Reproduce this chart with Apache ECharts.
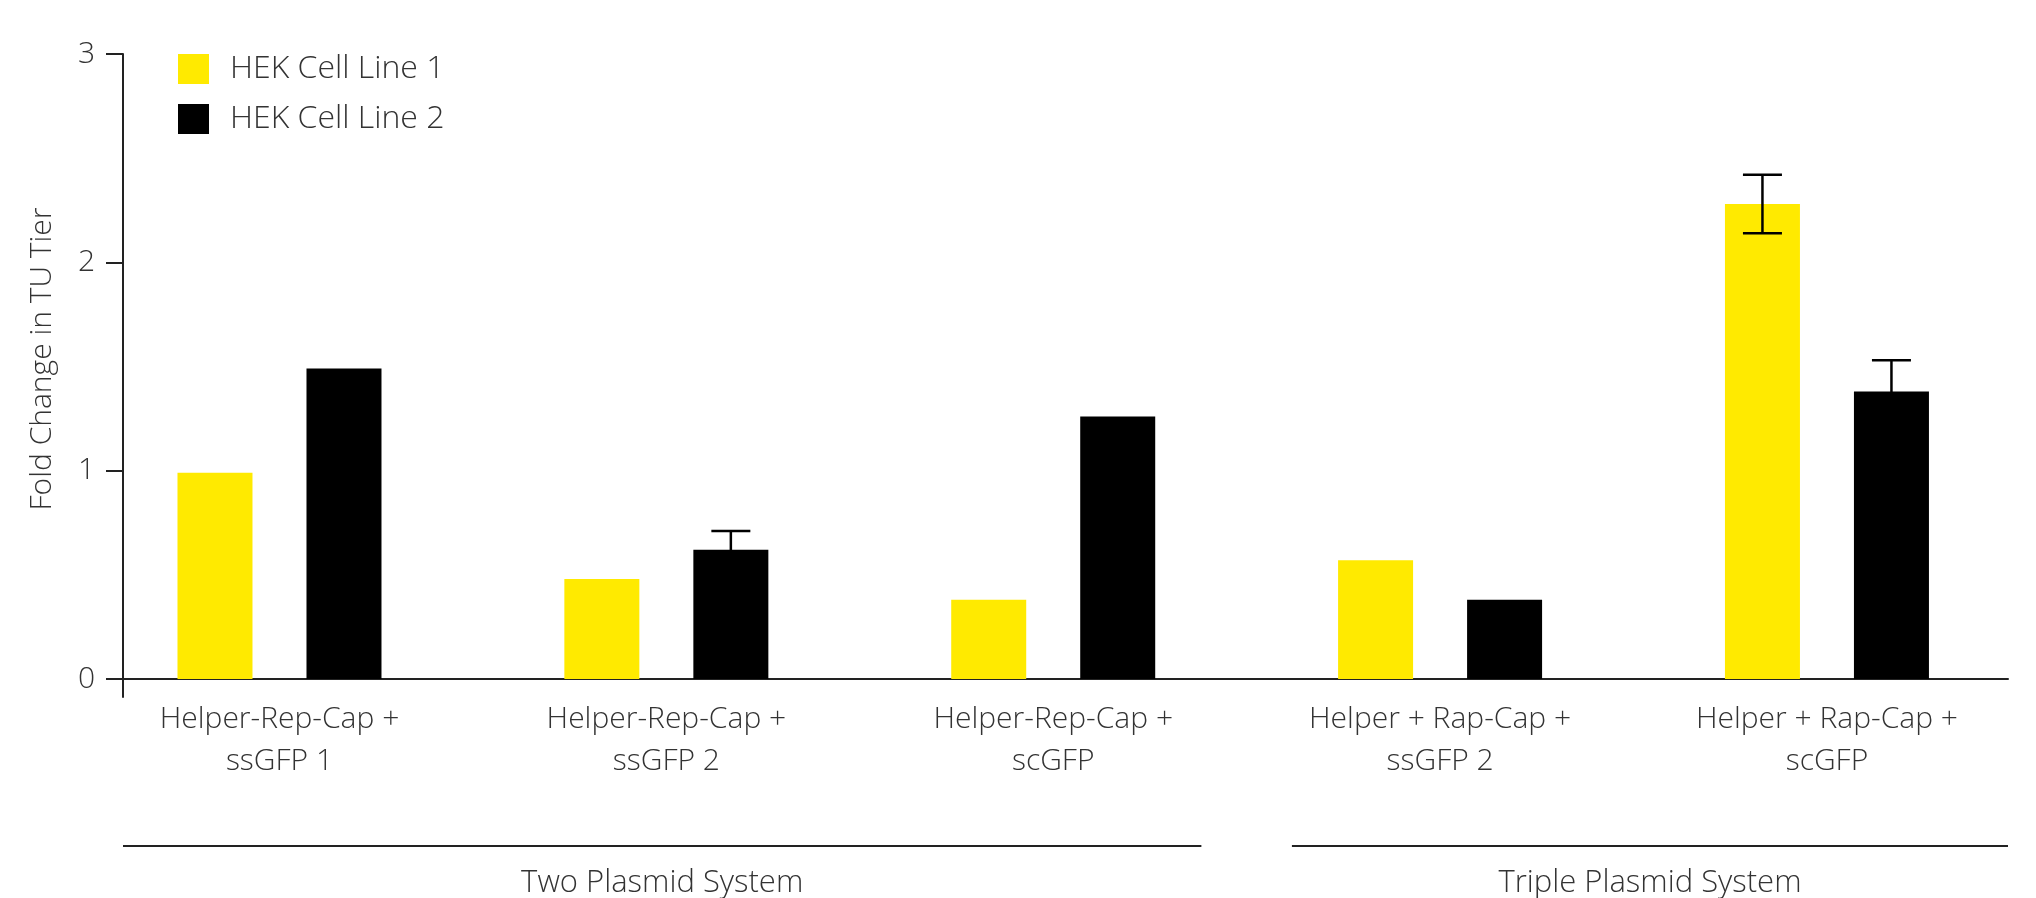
<!DOCTYPE html>
<html>
<head>
<meta charset="utf-8">
<script src="https://cdn.jsdelivr.net/npm/echarts@6/dist/echarts.min.js"></script>
<style>
html,body{margin:0;padding:0;background:#fff;}
#chart{width:2036px;height:898px;}
</style>
</head>
<body>
<div id="chart"></div>
<script>
// ---- data ----
const categories = [
  'Helper-Rep-Cap +\nssGFP 1',
  'Helper-Rep-Cap +\nssGFP 2',
  'Helper-Rep-Cap +\nscGFP',
  'Helper + Rap-Cap +\nssGFP 2',
  'Helper + Rap-Cap +\nscGFP'
];
const seriesNames = ['HEK Cell Line 1', 'HEK Cell Line 2'];
const line1Values = [0.99, 0.48, 0.38, 0.57, 2.28];
const line2Values = [1.49, 0.62, 1.26, 0.38, 1.38];
const line1Errors = [null, null, null, null, 0.14];
const line2Errors = [null, 0.09, null, null, 0.15];
const yTicks = [0, 1, 2, 3];
const groups = [
  { name: 'Two Plasmid System', from: 0, to: 2 },
  { name: 'Triple Plasmid System', from: 3, to: 4 }
];

// ---- style / layout ----
const FONT = '"Open Sans", Lato, sans-serif';
const FW = 300;
const TEXT = '#333';
const AXIS = '#222';
const YELLOW = '#FFEA00';
const BLACK = '#000';
const BAR_W = 75, BAR_GAP = 54;
const X_MIN = -0.4045, X_MAX = 4.468;
const Y_MIN = -0.0864, Y_MAX = 3;

const chart = echarts.init(document.getElementById('chart'), null, {renderer: 'canvas'});

function barData(vals) { return vals.map((v, i) => [i, v]); }
function errData(vals, errs) {
  const out = [];
  vals.forEach((v, i) => { if (errs[i] != null) out.push([i, v, errs[i]]); });
  return out;
}
function errSeries(vals, errs, sign) {
  const off = sign * (BAR_W / 2 + BAR_GAP / 2);
  return {
    type: 'custom',
    data: errData(vals, errs),
    z: 5,
    silent: true,
    renderItem: function (params, api) {
      const x = api.value(0), y = api.value(1), e = api.value(2);
      const pTop = api.coord([x, y + e]);
      const pBot = api.coord([x, y - e]);
      const cx = pTop[0] + off;
      const half = 19.5;
      const style = { stroke: '#000', lineWidth: 2.5 };
      return {
        type: 'group',
        children: [
          { type: 'line', shape: { x1: cx, y1: pTop[1], x2: cx, y2: pBot[1] }, style },
          { type: 'line', shape: { x1: cx - half, y1: pTop[1], x2: cx + half, y2: pTop[1] }, style },
          { type: 'line', shape: { x1: cx - half, y1: pBot[1], x2: cx + half, y2: pBot[1] }, style }
        ]
      };
    }
  };
}

const option = {
  backgroundColor: '#fff',
  animation: false,
  textStyle: { fontFamily: FONT, fontWeight: FW },
  grid: { left: 123, right: 28, top: 54, bottom: 201, containLabel: false, outerBoundsMode: 'none' },
  legend: {
    data: seriesNames,
    orient: 'vertical',
    left: 178, top: 53,
    padding: 0,
    itemWidth: 31, itemHeight: 30, itemGap: 18,
    icon: 'rect',
    textStyle: { fontSize: 32, color: TEXT, fontFamily: FONT, fontWeight: FW, padding: [0, 0, 0, 16] }
  },
  xAxis: {
    type: 'value',
    min: X_MIN, max: X_MAX,
    splitLine: { show: false },
    axisLine: { show: true, onZero: true, lineStyle: { color: AXIS, width: 2 } },
    axisTick: { show: false },
    axisLabel: {
      customValues: categories.map((c, i) => i),
      formatter: v => categories[Math.round(v)] || '',
      fontSize: 30, lineHeight: 42, color: TEXT, fontFamily: FONT, fontWeight: FW,
      margin: 1, align: 'center', verticalAlign: 'top', hideOverlap: false
    }
  },
  yAxis: {
    type: 'value',
    min: Y_MIN, max: Y_MAX,
    name: 'Fold Change in TU Tier',
    nameLocation: 'middle',
    nameRotate: 90,
    nameGap: 66,
    nameTextStyle: { fontSize: 30, color: TEXT, fontFamily: FONT, fontWeight: FW, padding: [0, 0, 0, 33] },
    splitLine: { show: false },
    axisLine: { show: true, onZero: false, lineStyle: { color: AXIS, width: 2 } },
    axisTick: { show: true, customValues: yTicks, length: 17, lineStyle: { color: AXIS, width: 2 } },
    axisLabel: { customValues: yTicks, fontSize: 30, color: TEXT, fontFamily: FONT, fontWeight: FW, margin: 28 }
  },
  series: [
    {
      name: seriesNames[0], type: 'bar', data: barData(line1Values),
      barWidth: BAR_W, barGap: (BAR_GAP / BAR_W * 100) + '%',
      itemStyle: { color: YELLOW }
    },
    {
      name: seriesNames[1], type: 'bar', data: barData(line2Values),
      barWidth: BAR_W, barGap: (BAR_GAP / BAR_W * 100) + '%',
      itemStyle: { color: BLACK }
    },
    errSeries(line1Values, line1Errors, -1),
    errSeries(line2Values, line2Errors, 1)
  ]
};
chart.setOption(option);

// group brackets under the axis
const PAD = 0.383;
const LINE_Y = 846, LABEL_Y = 883;
const graphics = [];
groups.forEach(g => {
  const s = g.from === 0 ? X_MIN : g.from - PAD;
  const e = g.to === categories.length - 1 ? X_MAX : g.to + PAD;
  const x1 = chart.convertToPixel({ xAxisIndex: 0, yAxisIndex: 0 }, [s, 0])[0];
  const x2 = chart.convertToPixel({ xAxisIndex: 0, yAxisIndex: 0 }, [e, 0])[0];
  graphics.push({
    type: 'line', shape: { x1: x1, y1: LINE_Y, x2: x2, y2: LINE_Y },
    style: { stroke: AXIS, lineWidth: 2 }, silent: true
  });
  graphics.push({
    type: 'text', x: (x1 + x2) / 2, y: LABEL_Y,
    style: { text: g.name, fill: TEXT, fontSize: 31, fontFamily: FONT, fontWeight: FW, align: 'center', verticalAlign: 'middle' },
    silent: true
  });
});
chart.setOption({ graphic: graphics });
</script>
</body>
</html>
